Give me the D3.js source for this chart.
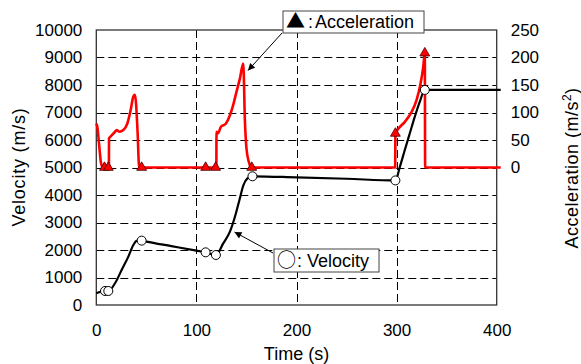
<!DOCTYPE html>
<html>
<head>
<meta charset="utf-8">
<script src="https://cdn.jsdelivr.net/npm/d3@7"></script>
<style>
  body { margin: 0; background: #fff; }
  text { font-family: "Liberation Sans", Arial, "Noto Sans CJK JP", sans-serif; fill: #000; }
</style>
</head>
<body>
<svg id="chart" width="581" height="364"></svg>
<script>
// axis ticks
const timeTicks = [0, 100, 200, 300, 400];
const velTicks = [0, 1000, 2000, 3000, 4000, 5000, 6000, 7000, 8000, 9000, 10000];
const accTicks = [0, 50, 100, 150, 200, 250];

// velocity curve (time s, m/s)
const velTime = [0, 8.7, 12, 18.7, 25.3, 32, 37, 40.3, 45.3, 50, 75, 100, 109.2, 119.5, 126.8, 133.5, 138.5, 143, 147, 151, 156, 200, 250, 298.8, 303.3, 308.2, 313.2, 318.2, 323.2, 328.2, 404];
const velValue = [425, 510, 510, 790, 1270, 1760, 2180, 2330, 2340, 2305, 2140, 1975, 1915, 1818, 2240, 2667, 3210, 3820, 4360, 4606, 4680, 4640, 4590, 4530, 5030, 5636, 6244, 6848, 7394, 7820, 7820];
// marked velocity points
const velMarkTime = [8.7, 12, 45.3, 109.2, 119.5, 156, 298.8, 328.2];
const velMarkValue = [510, 510, 2340, 1915, 1818, 4680, 4530, 7820];

// acceleration curve (time s, m/s^2)
const accTime = [0, 1, 3, 4.7, 6.4, 8, 12.6, 12.7, 14.7, 18.7, 20.4, 23, 27, 31, 34.3, 37, 38.6, 41.3, 42.6, 43.5,
  119.9, 120.1, 121.5, 124.5, 129.5, 133.5, 136.8, 140.1, 143.5, 146.8, 148.5, 150, 152.4, 155,
  298.6, 298.8, 302, 308.2, 315, 320, 324, 326.6, 328.2, 328.5, 404];
const accValue = [80, 74, 38, 8, 0.5, 0, 0, 53, 57, 65, 68, 65, 68, 80, 104, 129, 132, 62, 5, 0,
  0, 65, 62, 74, 80, 95, 114, 138, 162, 189, 83, 35, 10, 0,
  0, 62, 71, 83, 101, 123, 153, 183, 208, 0, 0];
// marked acceleration points
const accMarkTime = [8.2, 12, 45.3, 109.2, 119.2, 155.3, 298.8, 328.2];
const accMarkValue = [0, 0, 0, 0, 0, 0, 62, 208];

const svg = d3.select('#chart');

const x = d3.scaleLinear().domain([0, 400]).range([96.3, 496.7]);
const yV = d3.scaleLinear().domain([0, 10000]).range([305, 30]);
const yA = d3.scaleLinear().domain([-250, 250]).range([305, 30]);

// grid lines
const grid = svg.append('g')
  .attr('stroke', '#000')
  .attr('stroke-width', 1)
  .attr('stroke-dasharray', '8,4');

grid.selectAll('line.h')
  .data(velTicks.slice(1, -1))
  .enter().append('line')
  .attr('x1', x(0)).attr('x2', x(400))
  .attr('y1', d => Math.round(yV(d)) + 0.5).attr('y2', d => Math.round(yV(d)) + 0.5);

grid.selectAll('line.v')
  .data(timeTicks.slice(1, -1))
  .enter().append('line')
  .attr('x1', d => Math.round(x(d)) + 0.5).attr('x2', d => Math.round(x(d)) + 0.5)
  .attr('y1', yV(10000)).attr('y2', yV(0));

// frame
svg.append('rect')
  .attr('x', x(0)).attr('y', yV(10000))
  .attr('width', x(400) - x(0)).attr('height', yV(0) - yV(10000))
  .attr('fill', 'none')
  .attr('stroke', '#333')
  .attr('stroke-width', 1.3);

// axes (labels only)
const leftAxis = svg.append('g')
  .attr('transform', `translate(${x(0)},0)`)
  .call(d3.axisLeft(yV).tickValues(velTicks).tickSize(0).tickPadding(14).tickFormat(d3.format('d')));
const rightAxis = svg.append('g')
  .attr('transform', `translate(${x(400)},0)`)
  .call(d3.axisRight(yA).tickValues(accTicks).tickSize(0).tickPadding(14).tickFormat(d3.format('d')));
const bottomAxis = svg.append('g')
  .attr('transform', `translate(0,${yV(0)})`)
  .call(d3.axisBottom(x).tickValues(timeTicks).tickSize(0).tickPadding(19).tickFormat(d3.format('d')));

[leftAxis, rightAxis, bottomAxis].forEach(a => {
  a.select('.domain').remove();
  a.selectAll('text').attr('font-size', 17).attr('font-family', '"Liberation Sans", Arial, sans-serif');
});

// axis titles
svg.append('text')
  .attr('transform', 'translate(25,167) rotate(-90)')
  .attr('text-anchor', 'middle')
  .attr('font-size', 18)
  .attr('letter-spacing', 0.8)
  .text('Velocity (m/s)');

const accTitle = svg.append('text')
  .attr('transform', 'translate(578,168) rotate(-90)')
  .attr('text-anchor', 'middle')
  .attr('font-size', 18)
  .attr('letter-spacing', 0.5);
accTitle.append('tspan').text('Acceleration (m/s');
accTitle.append('tspan').attr('font-size', 12).attr('dy', -7).text('2');
accTitle.append('tspan').attr('dy', 7).text(')');

svg.append('text')
  .attr('x', 296.5).attr('y', 360)
  .attr('text-anchor', 'middle')
  .attr('font-size', 18)
  .text('Time (s)');

// lines
const accLine = d3.line()
  .x(i => x(accTime[i]))
  .y(i => yA(accValue[i]))
  .curve(d3.curveMonotoneX);
const velLine = d3.line()
  .x(i => x(velTime[i]))
  .y(i => yV(velValue[i]))
  .curve(d3.curveMonotoneX);

svg.append('path')
  .attr('d', accLine(d3.range(accTime.length)))
  .attr('fill', 'none')
  .attr('stroke', '#ff0000')
  .attr('stroke-width', 2.6)
  .attr('stroke-linejoin', 'round');

svg.append('path')
  .attr('d', velLine(d3.range(velTime.length)))
  .attr('fill', 'none')
  .attr('stroke', '#000')
  .attr('stroke-width', 2.2)
  .attr('stroke-linejoin', 'round');

// markers
svg.append('g')
  .selectAll('path')
  .data(d3.range(accMarkTime.length))
  .enter().append('path')
  .attr('d', d3.symbol().type(d3.symbolTriangle).size(42))
  .attr('transform', i => `translate(${x(accMarkTime[i])},${yA(accMarkValue[i])})`)
  .attr('fill', '#ff0000')
  .attr('stroke', '#400')
  .attr('stroke-width', 0.8);

svg.append('g')
  .selectAll('circle')
  .data(d3.range(velMarkTime.length))
  .enter().append('circle')
  .attr('cx', i => x(velMarkTime[i]))
  .attr('cy', i => yV(velMarkValue[i]))
  .attr('r', 4.5)
  .attr('fill', '#fff')
  .attr('stroke', '#000')
  .attr('stroke-width', 1);

// callouts
svg.append('defs').append('marker')
  .attr('id', 'arrow')
  .attr('viewBox', '0 0 10 10')
  .attr('refX', 10).attr('refY', 5)
  .attr('markerWidth', 9).attr('markerHeight', 7)
  .attr('markerUnits', 'userSpaceOnUse')
  .attr('orient', 'auto')
  .append('path')
  .attr('d', 'M0,0L10,5L0,10z')
  .attr('fill', '#000');

function callout(bx, by, bw, bh, symbol, label, symX, colonX, labelX, from, to) {
  svg.append('line')
    .attr('x1', from[0]).attr('y1', from[1])
    .attr('x2', to[0]).attr('y2', to[1])
    .attr('stroke', '#000')
    .attr('stroke-width', 1)
    .attr('marker-end', 'url(#arrow)');
  svg.append('rect')
    .attr('x', bx).attr('y', by)
    .attr('width', bw).attr('height', bh)
    .attr('fill', '#fff')
    .attr('stroke', '#444')
    .attr('stroke-width', 1);
  const t = svg.append('text')
    .attr('y', by + bh - 5)
    .attr('font-size', 18);
  t.append('tspan').attr('x', symX)
    .attr('font-family', '"Noto Sans CJK JP", "DejaVu Sans", sans-serif')
    .attr('font-size', 19)
    .text(symbol);
  t.append('tspan').attr('x', colonX).text(':');
  t.append('tspan').attr('x', labelX).text(label);
}

callout(283, 11, 141, 22, '▲', 'Acceleration', 286, 308, 315, [282, 33], [248, 70.5]);
callout(274, 249, 105, 23, '○', 'Velocity', 277, 297, 307, [273, 253], [234.5, 232]);
</script>
</body>
</html>
